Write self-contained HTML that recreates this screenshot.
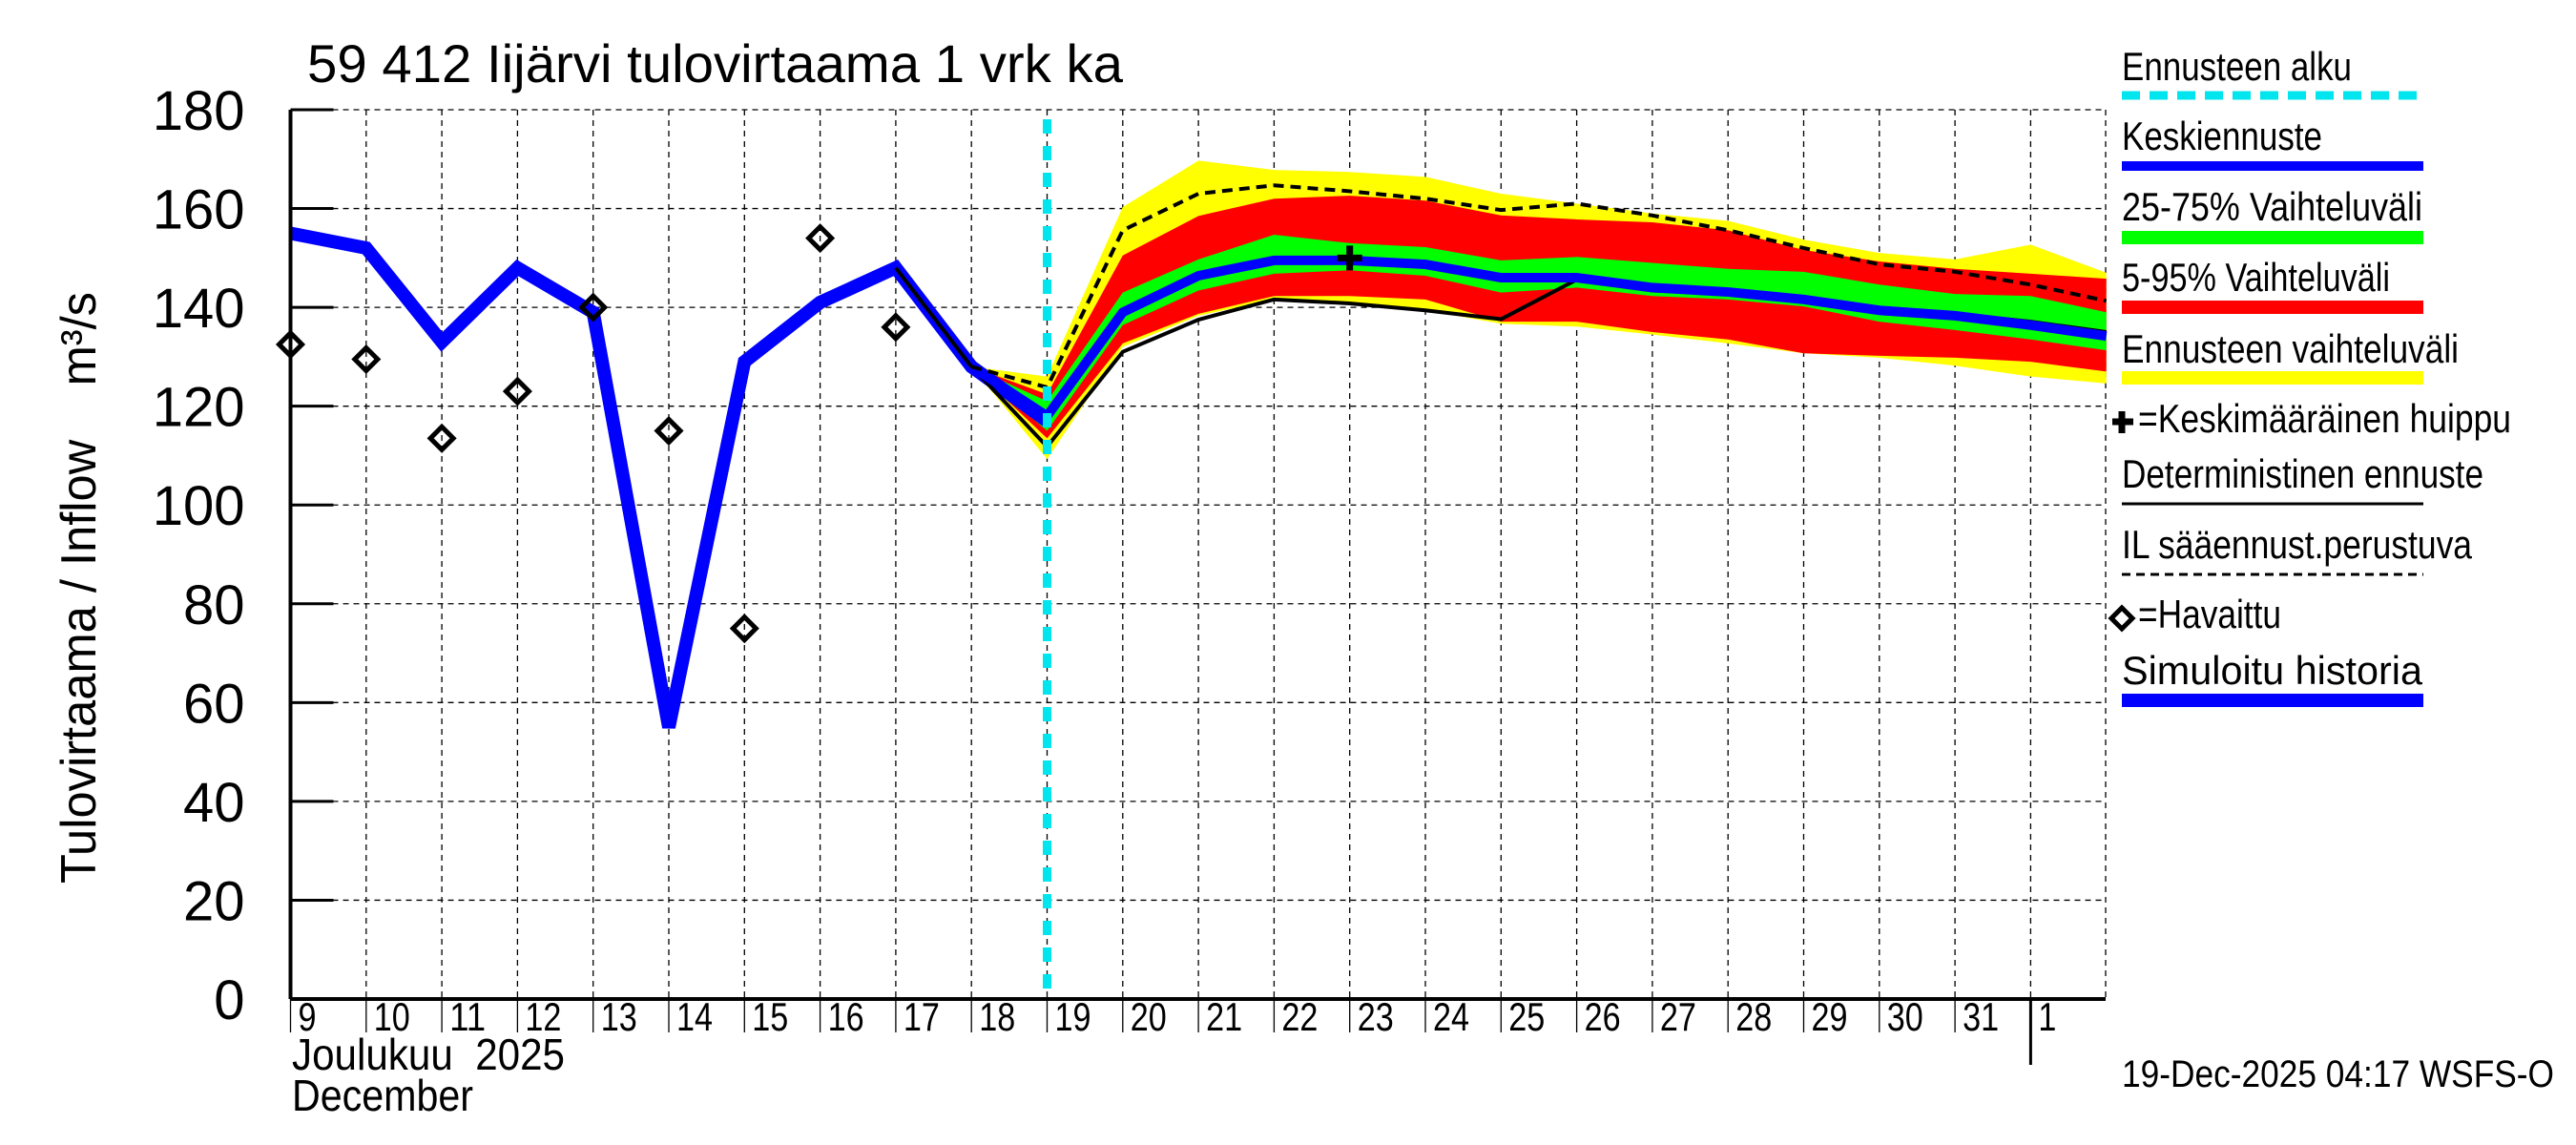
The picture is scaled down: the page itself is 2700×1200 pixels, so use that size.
<!DOCTYPE html>
<html><head><meta charset="utf-8"><style>
html,body{margin:0;padding:0;background:#fff}
svg{display:block;font-family:"Liberation Sans",sans-serif}
text{white-space:pre}
</style></head><body>
<svg id="chart" width="2700" height="1200" viewBox="0 0 2700 1200">
<text x="322" y="86" font-size="56" textLength="855" lengthAdjust="spacingAndGlyphs">59 412 Iijärvi tulovirtaama 1 vrk ka</text>
<text transform="translate(100,616) rotate(-90)" text-anchor="middle" font-size="52" textLength="620" lengthAdjust="spacingAndGlyphs">Tulovirtaama / Inflow    m³/s</text>
<g id="grid"></g>
<g id="bands"></g>
<g id="lines"></g>
<g id="axes"></g>
<text x="306" y="1121" font-size="46" textLength="286" lengthAdjust="spacingAndGlyphs">Joulukuu  2025</text>
<text x="306" y="1164" font-size="46" textLength="190" lengthAdjust="spacingAndGlyphs">December</text>
<g id="legend"></g>
<text x="2224" y="1139" font-size="40" textLength="453" lengthAdjust="spacingAndGlyphs">19-Dec-2025 04:17 WSFS-O</text>
</svg>
<script>
const dayLabels=['9','10','11','12','13','14','15','16','17','18','19','20','21','22','23','24','25','26','27','28','29','30','31','1'];
const yTicks=[0,20,40,60,80,100,120,140,160,180];
const histValues=[155,152,133,148,139,55,129,141,148,128,117];
const obsValues=[132.5,129.5,113.5,123,140,115,75,154,136];
const fcStart=9;
const yellowHi=[128,126,160.3,169.7,167.8,167.4,166.4,163,161,159,157.5,153.7,151,149.7,152.7,147];
const yellowLo=[128,109.3,132,138.3,141.6,140.8,139.4,136.7,136.1,134.5,132.7,130.7,129.8,128.2,126,124.6];
const redHi=[128,122.4,150.5,158.5,162,162.6,161.6,158.6,157.8,157.2,155.6,151.6,149.3,147.8,146.8,145.8];
const redLo=[128,113.5,132.7,138.7,142.3,142.3,141.6,137.1,137.1,135,133.5,130.7,130.2,129.8,129,127];
const greenHi=[128,121,143,149.7,154.7,153,152.2,149.5,150.2,149,147.8,147.2,144.6,142.7,142.3,139];
const greenLo=[128,115,136.4,143.4,146.8,147.5,146.4,143,144,142.3,141.6,140.2,137.1,135.4,133.5,131.3];
const median=[128,118,139,146.4,149.5,149.5,148.7,146,146,144,143.1,141.6,139.4,138.3,136.4,134.2];
const determ=[128,111.8,131,137.5,141.6,140.8,139.4,137.6,145.6,143.4,142.7,141.6,139.4,138.7,137.1,135];
const ilValues=[128,123.8,155.6,163,164.7,163.5,162,159.7,161,158.6,155.6,152,148.7,147.2,144.6,141.3];
const peakIndex=14, peakValue=150;
const forecastStartIndex=10;

const NS='http://www.w3.org/2000/svg';
const X0=304.5,DX=79.3,Y0=1047,Y1=115,XR=2207;
const xs=i=>X0+i*DX;
const ys=v=>Y0-(v/180)*(Y0-Y1);
function mk(p,tag,a){const e=document.createElementNS(NS,tag);for(const k in a)e.setAttribute(k,a[k]);p.appendChild(e);return e;}
const grid=document.getElementById('grid'),bands=document.getElementById('bands'),lines=document.getElementById('lines'),axes=document.getElementById('axes'),legend=document.getElementById('legend');

for(let i=1;i<dayLabels.length;i++){
  const l=mk(grid,'line',{x1:xs(i),x2:xs(i),y1:Y1,y2:Y0,stroke:'#000','stroke-width':1.3,'stroke-dasharray':'6,5'});
  
  
}
mk(grid,'line',{x1:XR,x2:XR,y1:Y1,y2:Y0,stroke:'#000','stroke-width':1.3,'stroke-dasharray':'6,5'});
yTicks.forEach(v=>{
  if(v===0)return;
  const l=mk(grid,'line',{x1:X0,x2:XR,y1:ys(v),y2:ys(v),stroke:'#000','stroke-width':1.3,'stroke-dasharray':'6,5'});
  
  
});

function band(hi,lo,color,name){
  let pts=[];
  hi.forEach((v,i)=>pts.push(xs(fcStart+i)+','+ys(v)));
  for(let i=lo.length-1;i>=0;i--)pts.push(xs(fcStart+i)+','+ys(lo[i]));
  const p=mk(bands,'polygon',{points:pts.join(' '),fill:color});
  
  
}
band(yellowHi,yellowLo,'#ffff00','band-forecast-range');
band(redHi,redLo,'#ff0000','band-5-95');
band(greenHi,greenLo,'#00ff00','band-25-75');

function poly(vals,start,attrs,name){
  const pts=vals.map((v,i)=>xs(start+i)+','+ys(v)).join(' ');
  const p=mk(lines,'polyline',Object.assign({points:pts,fill:'none','stroke-linejoin':'miter'},attrs));
  
  
}
poly(histValues,0,{stroke:'#0000ff','stroke-width':14},'simulated-history-line');
poly([histValues[8]].concat(determ),8,{stroke:'#000','stroke-width':4},'deterministic-line');
poly(median,fcStart,{stroke:'#0000ff','stroke-width':10},'median-forecast-line');
poly(ilValues,fcStart,{stroke:'#000','stroke-width':4,'stroke-dasharray':'11,7'},'il-forecast-line');

const cy=mk(lines,'line',{x1:xs(forecastStartIndex),x2:xs(forecastStartIndex),y1:Y1+10,y2:Y0,stroke:'#00e5ee','stroke-width':9,'stroke-dasharray':'15,13'});



const px=xs(peakIndex),py=ys(peakValue);
const pk=mk(lines,'path',{d:`M${px-13},${py}H${px+13}M${px},${py-13}V${py+13}`,stroke:'#000','stroke-width':7});



obsValues.forEach((v,i)=>{
  const x=xs(i),y=ys(v),r=12;
  const d=mk(lines,'polygon',{points:`${x},${y-r} ${x+r},${y} ${x},${y+r} ${x-r},${y}`,fill:'none',stroke:'#000','stroke-width':5});
  
  
});

mk(axes,'line',{x1:X0,x2:X0,y1:Y1,y2:Y0,stroke:'#000','stroke-width':4});
mk(axes,'line',{x1:X0,x2:XR,y1:Y0,y2:Y0,stroke:'#000','stroke-width':4});
yTicks.forEach(v=>{
  mk(axes,'line',{x1:X0,x2:X0+45,y1:ys(v),y2:ys(v),stroke:'#000','stroke-width':3});
  const t=mk(axes,'text',{x:X0-48,y:ys(v)+21,'font-size':58,'text-anchor':'end'});
  t.textContent=String(v);
  
  
});
dayLabels.forEach((d,i)=>{
  const x=xs(i);
  const long=(d==='1'&&i>0);
  mk(axes,'line',{x1:x,x2:x,y1:Y0,y2:long?1116:1082,stroke:'#000','stroke-width':long?3:1.3});
  const t=mk(axes,'text',{x:x+8,y:1080,'font-size':42,textLength:d.length*19,lengthAdjust:'spacingAndGlyphs'});
  t.textContent=d;
  
  
});

const LX=2224,LX2=2540;
const legendItems=[
 {t:'Ennusteen alku',ty:84,ly:100,c:'#00e5ee',w:9,dash:'19,10',n:'legend-forecast-start',tw:241},
 {t:'Keskiennuste',ty:157,ly:174,c:'#0000ff',w:10,n:'legend-median',tw:210},
 {t:'25-75% Vaihteluväli',ty:231,ly:249,c:'#00ff00',w:14,n:'legend-25-75',tw:315},
 {t:'5-95% Vaihteluväli',ty:305,ly:322,c:'#ff0000',w:14,n:'legend-5-95',tw:281},
 {t:'Ennusteen vaihteluväli',ty:380,ly:396,c:'#ffff00',w:14,n:'legend-range',tw:353},
 {t:'=Keskimääräinen huippu',ty:453,tx:2241,n:'legend-peak',plus:true,tw:391},
 {t:'Deterministinen ennuste',ty:511,ly:528,c:'#000',w:3,n:'legend-deterministic',tw:379},
 {t:'IL sääennust.perustuva',ty:585,ly:602,c:'#000',w:3,dash:'9,6',n:'legend-il',tw:367},
 {t:'=Havaittu',ty:658,tx:2241,n:'legend-observed',diamond:true,tw:150},
 {t:'Simuloitu historia',ty:717,ly:734,c:'#0000ff',w:14,n:'legend-history',tw:315}
];
legendItems.forEach(it=>{
  const g=mk(legend,'g',{});
  
  
  const t=mk(g,'text',{x:it.tx||LX,y:it.ty,'font-size':42,textLength:it.tw,lengthAdjust:'spacingAndGlyphs'});
  t.textContent=it.t;
  if(it.ly){const a={x1:LX,x2:LX2,y1:it.ly,y2:it.ly,stroke:it.c,'stroke-width':it.w};if(it.dash)a['stroke-dasharray']=it.dash;mk(g,'line',a);}
  if(it.plus)mk(g,'path',{d:'M2214,442H2236M2224,431V454',stroke:'#000','stroke-width':7});
  if(it.diamond)mk(g,'polygon',{points:'2224,637 2235,648 2224,659 2213,648',fill:'none',stroke:'#000','stroke-width':5});
});
</script>
</body></html>
